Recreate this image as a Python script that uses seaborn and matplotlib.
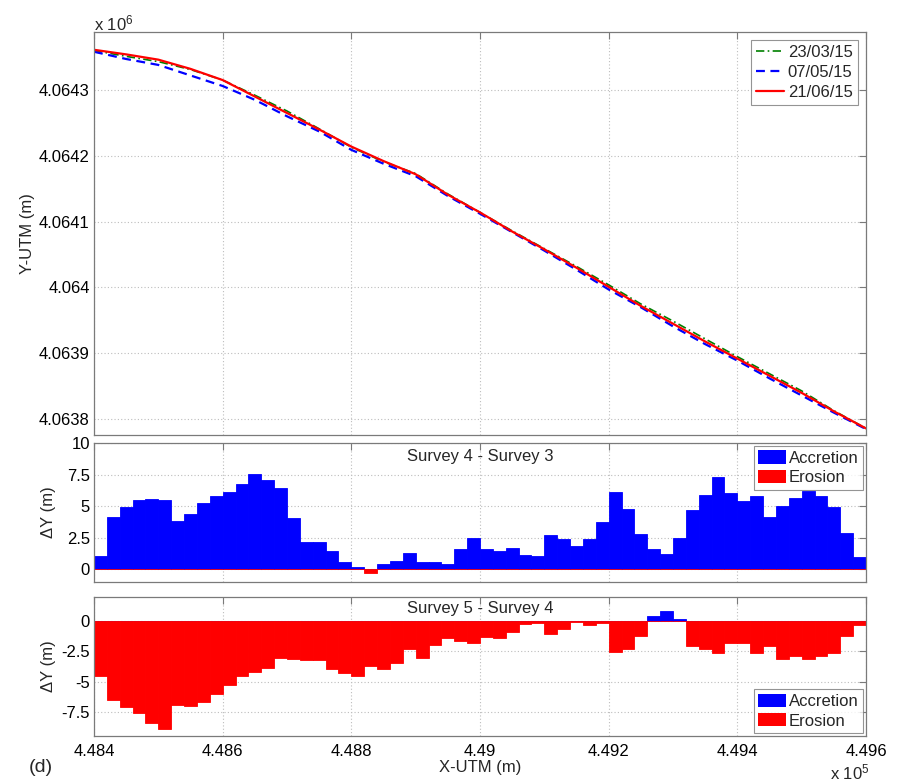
import matplotlib
matplotlib.use("Agg")
import matplotlib.pyplot as plt
from matplotlib.ticker import FuncFormatter, MultipleLocator, FixedLocator
from matplotlib.patches import Patch
import numpy as np
import pandas as pd
import seaborn as sns

# Shoreline positions, UTM (m)
shore_x = [448400, 448450, 448500, 448550, 448600, 448650, 448700, 448750,
           448800, 448850, 448900, 448950, 449000, 449050, 449100, 449150,
           449200, 449250, 449300, 449350, 449400, 449450, 449500, 449550,
           449600]
shore_230315 = [4064360, 4064351, 4064343, 4064331, 4064315, 4064292, 4064268,
                4064241, 4064213, 4064191, 4064173, 4064142, 4064114, 4064086,
                4064059, 4064032, 4064004, 4063975, 4063949, 4063922, 4063895,
                4063869, 4063843, 4063813, 4063786]
shore_070515 = [4064358, 4064347, 4064338, 4064322, 4064306, 4064285, 4064260,
                4064237, 4064209, 4064188, 4064169, 4064139, 4064112, 4064084,
                4064056, 4064027, 4063997, 4063970, 4063941, 4063914, 4063889,
                4063862, 4063836, 4063810, 4063785]
shore_210615 = [4064361, 4064354, 4064346, 4064332, 4064315, 4064290, 4064265,
                4064240, 4064214, 4064192, 4064172, 4064141, 4064114, 4064085,
                4064058, 4064030, 4064001, 4063972, 4063945, 4063918, 4063892,
                4063866, 4063840, 4063812, 4063786]
survey_dates = ["23/03/15", "07/05/15", "21/06/15"]

# Alongshore bins of 20 m and cross-shore change between surveys (m)
bin_left = 448400
bin_width = 20
dy_s4_s3 = [1.05, 4.13, 4.9, 5.5, 5.58, 5.45, 3.84, 4.37, 5.26, 5.84,
            6.1, 6.76, 7.55, 7.08, 6.42, 4.1, 2.16, 2.18, 1.47, 0.6,
            0.2, -0.3, 0.4, 0.68, 1.29, 0.55, 0.55, 0.45, 1.58, 2.5,
            1.58, 1.47, 1.66, 1.13, 1.03, 2.71, 2.42, 1.84, 2.42, 3.74,
            6.1, 4.79, 2.82, 1.63, 1.24, 2.47, 4.66, 5.87, 7.29, 6.05,
            5.39, 5.84, 4.13, 5.05, 5.66, 6.18, 5.79, 4.95, 2.89, 1.0]
dy_s5_s4 = [-4.51, -6.51, -7.06, -7.58, -8.41, -8.96, -6.92, -7.03, -6.70, -6.05,
            -5.28, -4.51, -4.23, -3.85, -3.02, -3.16, -3.21, -3.21, -3.96, -4.31,
            -4.56, -3.68, -3.96, -3.46, -2.31, -3.02, -1.95, -1.43, -1.68, -1.8,
            -1.29, -1.40, -0.88, -0.22, -0.15, -1.02, -0.66, -0.08, -0.3, -0.12,
            -2.52, -2.31, -1.2, 0.45, 0.85, 0.22, -2.06, -2.27, -2.61, -1.8,
            -1.8, -2.61, -2.06, -3.09, -2.88, -3.16, -2.85, -2.63, -1.23, -0.3]
panel_titles = ["Survey 4 - Survey 3", "Survey 5 - Survey 4"]
legend_bars = ["Accretion", "Erosion"]

BLUE = "#0000ff"
RED = "#ff0000"
GREEN = "#008000"
FRAME = "#7a7a7a"

sns.set_theme(style="white")
plt.rcParams.update({
    "font.family": ["Liberation Sans", "DejaVu Sans"],
    "font.size": 12,
    "mathtext.fontset": "custom",
    "mathtext.rm": "Liberation Sans",
    "mathtext.it": "Liberation Sans",
    "axes.edgecolor": FRAME,
    "axes.linewidth": 0.9,
    "xtick.direction": "in",
    "ytick.direction": "in",
    "xtick.top": True,
    "ytick.right": True,
    "xtick.major.size": 5,
    "ytick.major.size": 5,
    "xtick.major.width": 0.8,
    "ytick.major.width": 0.8,
    "xtick.color": FRAME,
    "ytick.color": FRAME,
    "xtick.labelcolor": "black",
    "ytick.labelcolor": "black",
    "xtick.labelsize": 12,
    "ytick.labelsize": 12,
})

W, H = 903, 782
fig = plt.figure(figsize=(W / 100, H / 100), dpi=100)
left, width = 94 / W, 772 / W
ax1 = fig.add_axes([left, 1 - 435 / H, width, 403 / H])
ax2 = fig.add_axes([left, 1 - 582 / H, width, 139 / H])
ax3 = fig.add_axes([left, 1 - 736 / H, width, 139 / H])


def style_axes(ax):
    ax.set_xlim(448400, 449600)
    ax.xaxis.set_major_locator(MultipleLocator(200))
    ax.grid(True, linestyle=(0, (1, 2)), color="#bdbdbd", linewidth=0.8)
    ax.set_axisbelow(True)
    ax.tick_params(axis="y", pad=3)
    ax.tick_params(axis="x", pad=6)
    for s in ax.spines.values():
        s.set_color(FRAME)
        s.set_visible(True)


# --- shorelines ---
shore = pd.DataFrame({"x": shore_x, "a": shore_230315, "b": shore_070515, "c": shore_210615})
sns.lineplot(data=shore, x="x", y="a", ax=ax1, color=GREEN, linewidth=1.2,
             linestyle=(0, (5, 2, 1, 2)), label=survey_dates[0])
sns.lineplot(data=shore, x="x", y="b", ax=ax1, color=BLUE, linewidth=1.6,
             linestyle=(0, (4, 2.5)), label=survey_dates[1])
sns.lineplot(data=shore, x="x", y="c", ax=ax1, color=RED, linewidth=1.6,
             linestyle="-", label=survey_dates[2])
style_axes(ax1)
ax1.set_ylim(4063776, 4064388)
ax1.yaxis.set_major_locator(MultipleLocator(100))
ax1.yaxis.set_major_formatter(FuncFormatter(lambda v, p: f"{v / 1e6:g}"))
ax1.set_xticklabels([])
ax1.set_xlabel("")
ax1.set_ylabel("Y-UTM (m)", fontsize=12)
ax1.yaxis.set_label_coords(-0.0765, 0.5)
leg = ax1.legend(loc="upper right", fontsize=12, frameon=True, fancybox=False,
                 edgecolor=FRAME, handlelength=1.7, handletextpad=0.2,
                 labelspacing=0.3, borderpad=0.3, borderaxespad=0.5)
leg.get_frame().set_linewidth(0.8)
fig.text(94 / W, 1 - 23 / H, r"x 10$^{6}$", fontsize=12, ha="left", va="center")

# --- change bars ---
centers = bin_left + bin_width * (np.arange(len(dy_s4_s3)) + 0.5)


def change_bars(ax, dy, title, legend_loc, title_y):
    dy = np.asarray(dy, dtype=float)
    df = pd.DataFrame({"x": centers,
                       "acc": np.clip(dy, 0, None),
                       "ero": np.clip(dy, None, 0)})
    sns.barplot(data=df, x="x", y="acc", native_scale=True, width=1.0,
                color=BLUE, saturation=1, errorbar=None, linewidth=0.6,
                edgecolor=BLUE, ax=ax)
    sns.barplot(data=df, x="x", y="ero", native_scale=True, width=1.0,
                color=RED, saturation=1, errorbar=None, linewidth=0.6,
                edgecolor=RED, ax=ax)
    style_axes(ax)
    ax.set_xlabel("")
    ax.set_ylabel("\u0394Y (m)", fontsize=12)
    ax.yaxis.set_label_coords(-0.049, 0.5)
    ax.yaxis.set_major_formatter(FuncFormatter(lambda v, p: f"{v:g}"))
    ax.text(0.5, title_y, title, transform=ax.transAxes, ha="center",
            va="center", fontsize=12)
    handles = [Patch(facecolor=BLUE, edgecolor="none"),
               Patch(facecolor=RED, edgecolor="none")]
    lg = ax.legend(handles, legend_bars, loc=legend_loc, fontsize=12,
                   frameon=True, fancybox=False, edgecolor=FRAME,
                   handlelength=1.7, handleheight=0.85, handletextpad=0.15,
                   labelspacing=0.25, borderpad=0.25, borderaxespad=0.2)
    lg.get_frame().set_linewidth(0.8)


change_bars(ax2, dy_s4_s3, panel_titles[0], "upper right", 0.9)
ax2.set_ylim(-1, 10)
ax2.yaxis.set_major_locator(FixedLocator([0, 2.5, 5, 7.5, 10]))
ax2.set_xticklabels([])

change_bars(ax3, dy_s5_s4, panel_titles[1], "lower right", 0.92)
ax3.set_ylim(-9.5, 2)
ax3.yaxis.set_major_locator(FixedLocator([-7.5, -5, -2.5, 0]))
ax3.xaxis.set_major_formatter(FuncFormatter(lambda v, p: f"{v / 1e5:g}"))
ax3.set_xlabel("X-UTM (m)", fontsize=12)
ax3.xaxis.set_label_coords(0.5, -0.17)
ax3.xaxis.label.set_verticalalignment("top")

fig.text(830 / W, 1 - 772 / H, r"x 10$^{5}$", fontsize=12, ha="left", va="center")
fig.text(41 / W, 1 - 768 / H, "(d)", fontsize=14, ha="center", va="center")

fig.savefig("out.png", dpi=100, facecolor="white")
